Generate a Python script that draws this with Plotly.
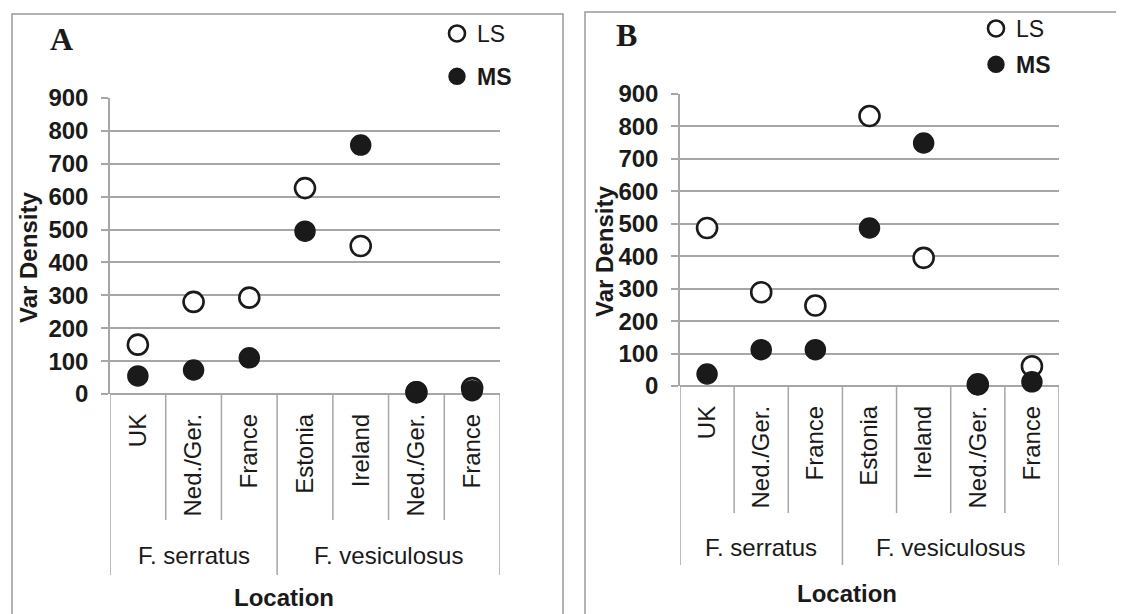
import plotly.graph_objects as go

# ---- data ----
categories = ["UK", "Ned./Ger.", "France", "Estonia", "Ireland", "Ned./Ger.", "France"]
groups = ["F. serratus", "F. vesiculosus"]
group_sizes = [3, 4]
y_ticks = [0, 100, 200, 300, 400, 500, 600, 700, 800, 900]

a_ls = [150, 280, 293, 626, 450, 5, 18]
a_ms = [55, 73, 110, 495, 757, 7, 10]
b_ls = [487, 289, 248, 832, 395, 5, 61]
b_ms = [37, 112, 112, 487, 749, 5, 13]

OFF = 8  # page body margin
W, H = 1124 - OFF, 614 - OFF
SANS = "Arial, Liberation Sans, sans-serif"
SERIF = "Times New Roman, Liberation Serif, serif"
GRID = "#a6a6a6"
INK = "#1a1a1a"


def px(x):
    return (x - OFF) / W


def py(y):
    return 1 - (y - OFF) / H


fig = go.Figure()

panels = [
    dict(label="A", ls=a_ls, ms=a_ms, xs="x", ys="y", xa="xaxis", ya="yaxis", leg="legend",
         ax0=110, ax1=500, y0=394, y900=98, short=520, long=575, grp_y=555,
         loc_x=284, loc_y=597, title_x=28, title_y=258, lab=(61, 39),
         frame=(12, 563, 14), leg_x=437, leg_y=12, gap=10),
    dict(label="B", ls=b_ls, ms=b_ms, xs="x2", ys="y2", xa="xaxis2", ya="yaxis2", leg="legend2",
         ax0=680, ax1=1059, y0=386, y900=94, short=513, long=565, grp_y=547,
         loc_x=847, loc_y=593, title_x=604, title_y=252, lab=(626, 35),
         frame=(585, 1135, 12), leg_x=976, leg_y=7, gap=3),
]

xpos = list(range(len(categories)))
shapes = []
annotations = []

for p in panels:
    fig.add_trace(go.Scatter(
        x=xpos, y=p["ls"], mode="markers", name="LS", xaxis=p["xs"], yaxis=p["ys"],
        legend=p["leg"], legendgroup=p["label"] + "LS", cliponaxis=False,
        marker=dict(size=20, color="white", line=dict(color=INK, width=2.6)),
    ))
    fig.add_trace(go.Scatter(
        x=xpos, y=p["ms"], mode="markers", name="<b>MS</b>", xaxis=p["xs"], yaxis=p["ys"],
        legend=p["leg"], legendgroup=p["label"] + "MS", cliponaxis=False,
        marker=dict(size=20, color=INK, line=dict(color=INK, width=1.5)),
    ))

    fig.layout[p["xa"]] = dict(
        domain=[px(p["ax0"]), px(p["ax1"])], range=[-0.5, len(categories) - 0.5],
        anchor=p["ys"], showgrid=False, zeroline=False, showline=False,
        tickmode="array", tickvals=xpos, ticktext=categories, tickangle=-90,
        ticks="", ticklabelstandoff=14, automargin=False,
        tickfont=dict(family=SANS, size=24, color=INK), fixedrange=True,
    )
    fig.layout[p["ya"]] = dict(
        domain=[py(p["y0"]), py(p["y900"])], range=[0, 900], anchor=p["xs"],
        tickmode="array", tickvals=y_ticks, showgrid=True, gridcolor=GRID, gridwidth=1.5,
        zeroline=True, zerolinecolor=GRID, zerolinewidth=1.5,
        showline=True, linecolor=GRID, linewidth=1.5, automargin=False,
        ticks="outside", ticklen=7, tickcolor=GRID, tickwidth=1.5, ticklabelstandoff=8,
        tickfont=dict(family=SANS, size=24, color=INK, weight="bold"), fixedrange=True,
    )

    # category separators below the axis
    bounds = [-0.5]
    for g in group_sizes:
        bounds.append(bounds[-1] + g)
    for i in range(len(categories) + 1):
        xb = i - 0.5
        is_long = xb in bounds
        shapes.append(dict(
            type="line", xref=p["xs"], yref="paper", x0=xb, x1=xb,
            y0=py(p["y0"]), y1=py(p["long"] if is_long else p["short"]),
            line=dict(color=GRID, width=1.5), layer="below",
        ))
    # group labels
    for gi, gname in enumerate(groups):
        annotations.append(dict(
            text=gname, xref=p["xs"], yref="paper", x=(bounds[gi] + bounds[gi + 1]) / 2,
            y=py(p["grp_y"]), showarrow=False, xanchor="center", yanchor="middle",
            font=dict(family=SANS, size=24, color=INK),
        ))
    annotations.append(dict(
        text="<b>Location</b>", xref="paper", yref="paper", x=px(p["loc_x"]), y=py(p["loc_y"]),
        showarrow=False, xanchor="center", yanchor="middle",
        font=dict(family=SANS, size=24, color=INK),
    ))
    annotations.append(dict(
        text="<b>Var Density</b>", xref="paper", yref="paper", x=px(p["title_x"]),
        y=py(p["title_y"]), showarrow=False, textangle=-90, xanchor="center", yanchor="middle",
        font=dict(family=SANS, size=24, color=INK),
    ))
    annotations.append(dict(
        text="<b>" + p["label"] + "</b>", xref="paper", yref="paper", x=px(p["lab"][0]),
        y=py(p["lab"][1]), showarrow=False, xanchor="center", yanchor="middle",
        font=dict(family=SERIF, size=32, color=INK),
    ))
    fx0, fx1, fy0 = p["frame"]
    shapes.append(dict(
        type="rect", xref="paper", yref="paper", x0=px(fx0), x1=px(fx1), y0=py(fy0), y1=py(H + 30),
        line=dict(color="#999999", width=1.5), layer="below",
    ))
    fig.layout[p["leg"]] = dict(
        x=px(p["leg_x"]), y=py(p["leg_y"]), xanchor="left", yanchor="top",
        bgcolor="rgba(0,0,0,0)", borderwidth=0, tracegroupgap=p["gap"],
        traceorder="grouped", font=dict(family=SANS, size=23, color=INK),
    )

fig.update_layout(
    width=W, height=H, margin=dict(l=0, r=0, t=0, b=0, autoexpand=False),
    paper_bgcolor="white", plot_bgcolor="white", showlegend=True,
    shapes=shapes, annotations=annotations,
)

fig.write_html("out.html")
